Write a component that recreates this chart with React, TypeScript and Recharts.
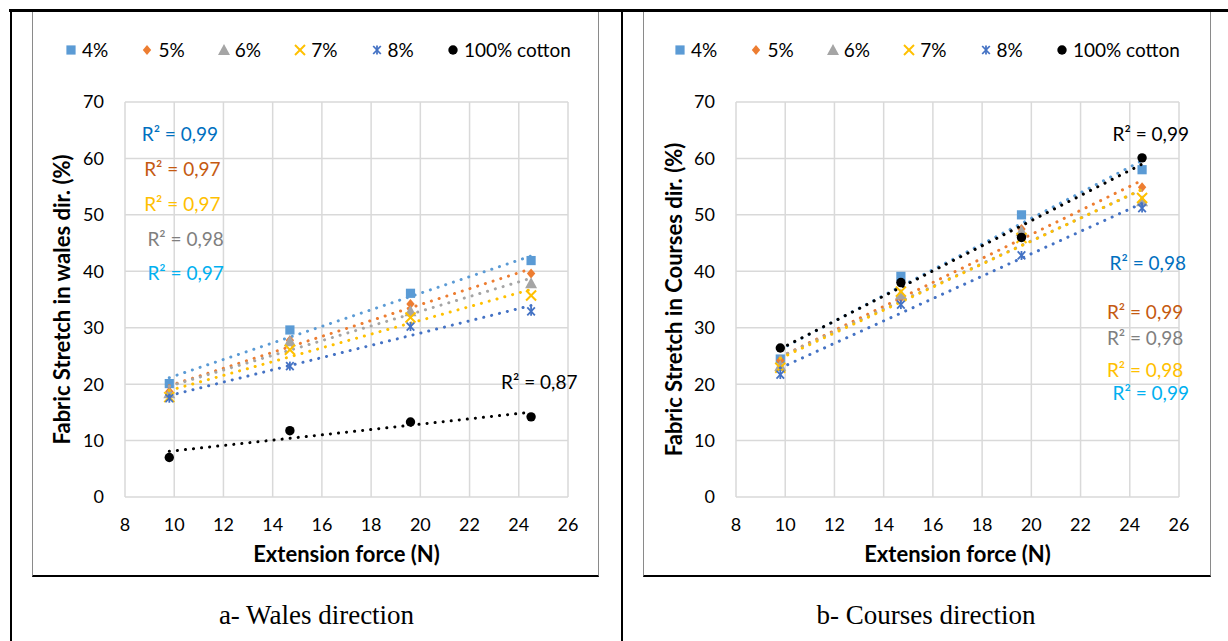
import React from 'react';
import { ScatterChart, Scatter, XAxis, YAxis, CartesianGrid, ReferenceDot } from 'recharts';

// ---- data ----
const forces = [9.8, 14.7, 19.6, 24.5];
const seriesNames = ['4%', '5%', '6%', '7%', '8%', '100% cotton'];
const xTicks = [8, 10, 12, 14, 16, 18, 20, 22, 24, 26];
const yTicks = [0, 10, 20, 30, 40, 50, 60, 70];

const wales4 = [20.1, 29.6, 36.1, 41.9];
const wales5 = [18.7, 27.8, 34.2, 39.6];
const wales6 = [18.4, 27.6, 32.9, 37.9];
const wales7 = [17.7, 26.1, 31.8, 35.7];
const wales8 = [17.5, 23.2, 30.2, 32.9];
const walesCotton = [7.0, 11.75, 13.3, 14.2];

const courses4 = [24.45, 39.1, 50.0, 58.0];
const courses5 = [24.2, 35.3, 47.5, 54.9];
const courses6 = [23.2, 35.9, 47.1, 52.4];
const courses7 = [22.9, 36.4, 45.9, 53.0];
const courses8 = [21.7, 34.1, 42.8, 51.2];
const coursesCotton = [26.4, 38.0, 46.0, 60.1];

const walesR2 = ['R² = 0,99', 'R² = 0,97', 'R² = 0,97', 'R² = 0,98', 'R² = 0,97', 'R² = 0,87'];
const coursesR2 = ['R² = 0,99', 'R² = 0,98', 'R² = 0,99', 'R² = 0,98', 'R² = 0,98', 'R² = 0,99'];

// ---- styles (kept apart from the data) ----
const seriesColors = ['#5B9BD5', '#ED7D31', '#A5A5A5', '#FFC000', '#4472C4', '#000000'];
const seriesKinds = ['square', 'diamond', 'triangle', 'x', 'star', 'circle'];
const walesR2Colors = ['#0070C0', '#C55A11', '#FFC000', '#7F7F7F', '#00B0F0', '#000000'];
const coursesR2Colors = ['#000000', '#0070C0', '#C55A11', '#7F7F7F', '#FFC000', '#00B0F0'];
// annotation anchor positions (data units, left edge / vertical centre of each R² text)
const walesR2Pos = [[8.68, 64.2], [8.78, 58.1], [8.78, 51.9], [8.91, 45.7], [8.91, 39.6], [23.28, 20.3]];
const coursesR2Pos = [[23.3, 64.3], [23.18, 41.4], [23.07, 32.7], [23.07, 28.1], [23.07, 22.5], [23.3, 18.3]];

const FONT = 'Lato, "Open Sans", sans-serif';

function drawMarker(kind: string, cx: number, cy: number, color: string) {
  switch (kind) {
    case 'square':
      return <rect x={cx - 4.6} y={cy - 4.6} width={9.2} height={9.2} fill={color} />;
    case 'diamond':
      return <polygon points={`${cx},${cy - 5} ${cx + 4.2},${cy} ${cx},${cy + 5} ${cx - 4.2},${cy}`} fill={color} />;
    case 'triangle':
      return <polygon points={`${cx},${cy - 6} ${cx + 6},${cy + 5} ${cx - 6},${cy + 5}`} fill={color} />;
    case 'x':
      return (
        <g stroke={color} strokeWidth={2}>
          <line x1={cx - 5} y1={cy - 5} x2={cx + 5} y2={cy + 5} />
          <line x1={cx - 5} y1={cy + 5} x2={cx + 5} y2={cy - 5} />
        </g>
      );
    case 'star':
      return (
        <g stroke={color} strokeWidth={1.8}>
          <line x1={cx - 3.8} y1={cy - 4} x2={cx + 3.8} y2={cy + 4} />
          <line x1={cx - 3.8} y1={cy + 4} x2={cx + 3.8} y2={cy - 4} />
          <line x1={cx} y1={cy - 4.5} x2={cx} y2={cy + 4.5} />
        </g>
      );
    default:
      return <circle cx={cx} cy={cy} r={4.7} fill={color} />;
  }
}

const makeShape = (kind: string, color: string) => (props: any) => {
  const { cx, cy } = props;
  if (cx == null || cy == null) return <g />;
  return <g>{drawMarker(kind, cx, cy, color)}</g>;
};

function LegendRow({ left }: { left: number }) {
  return (
    <div
      style={{
        position: 'absolute',
        left,
        top: 38,
        display: 'flex',
        alignItems: 'center',
        fontFamily: FONT,
        fontSize: 19,
        color: '#000',
        lineHeight: '24px',
        whiteSpace: 'nowrap',
      }}
    >
      {seriesNames.map((n, i) => (
        <div key={n} style={{ width: i < 5 ? 76.4 : 'auto', display: 'flex', alignItems: 'center' }}>
          <svg width={14} height={14} style={{ display: 'block' }}>
            {drawMarker(seriesKinds[i], 7, 7, seriesColors[i])}
          </svg>
          <span style={{ marginLeft: 4 }}>{n}</span>
        </div>
      ))}
    </div>
  );
}

function Panel({
  left,
  series,
  yTitle,
  r2Texts,
  r2Colors,
  r2Pos,
  yLabelOffset,
}: {
  left: number;
  series: number[][];
  yTitle: string;
  r2Texts: string[];
  r2Colors: string[];
  r2Pos: number[][];
  yLabelOffset: number;
}) {
  return (
    <div style={{ position: 'absolute', left, top: 0 }}>
      <ScatterChart width={620} height={600} margin={{ top: 102, right: 52, bottom: 33, left: 0 }}>
        <CartesianGrid stroke="#d9d9d9" strokeWidth={1.5} />
        <XAxis
          type="number"
          dataKey="x"
          domain={[8, 26]}
          ticks={xTicks}
          interval={0}
          height={70}
          axisLine={false}
          tickLine={false}
          tickSize={0}
          tickMargin={21}
          tick={{ fill: '#000', fontSize: 18, fontFamily: FONT }}
          label={{
            value: 'Extension force (N)',
            position: 'insideBottom',
            offset: 5,
            fill: '#000',
            fontSize: 22,
            fontWeight: 700,
            fontFamily: FONT,
          }}
        />
        <YAxis
          type="number"
          dataKey="y"
          domain={[0, 70]}
          ticks={yTicks}
          interval={0}
          width={125}
          axisLine={false}
          tickLine={false}
          tickSize={0}
          tickMargin={21}
          tick={{ fill: '#000', fontSize: 18, fontFamily: FONT }}
          label={{
            value: yTitle,
            angle: -90,
            position: 'insideLeft',
            offset: yLabelOffset,
            fill: '#000',
            fontSize: 22,
            fontWeight: 700,
            fontFamily: FONT,
            style: { textAnchor: 'middle' },
          }}
        />
        {series.map((vals, i) => (
          <Scatter
            key={seriesNames[i]}
            name={seriesNames[i]}
            data={forces.map((x, j) => ({ x, y: vals[j] }))}
            fill={seriesColors[i]}
            shape={makeShape(seriesKinds[i], seriesColors[i])}
            line={{
              stroke: seriesColors[i],
              strokeWidth: 3,
              strokeDasharray: '0.1 8',
              strokeLinecap: 'round',
            }}
            lineType="fitting"
            isAnimationActive={false}
          />
        ))}
        {r2Texts.map((t, i) => (
          <ReferenceDot
            key={'r' + i}
            x={r2Pos[i][0]}
            y={r2Pos[i][1]}
            r={0}
            fill="none"
            stroke="none"
            label={{
              value: t,
              position: 'right',
              offset: 0,
              fill: r2Colors[i],
              fontSize: 19,
              fontFamily: FONT,
            }}
          />
        ))}
      </ScatterChart>
    </div>
  );
}

export default function App() {
  return (
    <div
      style={{
        position: 'absolute',
        left: 0,
        top: 0,
        width: 1228,
        height: 641,
        background: '#fff',
        overflow: 'hidden',
      }}
    >
      {/* chart frames */}
      <div style={{ position: 'absolute', left: 31.5, top: 9, width: 567, height: 568, borderLeft: '1px solid #8a8a8a', borderRight: '1px solid #8a8a8a', borderBottom: '2px solid #000', boxSizing: 'border-box' }} />
      <div style={{ position: 'absolute', left: 642.5, top: 9, width: 568, height: 568, borderLeft: '1px solid #8a8a8a', borderRight: '1px solid #8a8a8a', borderBottom: '2px solid #000', boxSizing: 'border-box' }} />

      <Panel
        left={0}
        series={[wales4, wales5, wales6, wales7, wales8, walesCotton]}
        yTitle="Fabric Stretch in wales dir. (%)"
        r2Texts={walesR2}
        r2Colors={walesR2Colors}
        r2Pos={walesR2Pos}
        yLabelOffset={62}
      />
      <Panel
        left={611}
        series={[courses4, courses5, courses6, courses7, courses8, coursesCotton]}
        yTitle="Fabric Stretch in Courses dir. (%)"
        r2Texts={coursesR2}
        r2Colors={coursesR2Colors}
        r2Pos={coursesR2Pos}
        yLabelOffset={63}
      />

      <LegendRow left={64} />
      <LegendRow left={673} />

      {/* table borders */}
      <div style={{ position: 'absolute', left: 9, top: 9, width: 1219, height: 2.5, background: '#000' }} />
      <div style={{ position: 'absolute', left: 10, top: 9, width: 2, height: 632, background: '#000' }} />
      <div style={{ position: 'absolute', left: 621, top: 9, width: 2, height: 632, background: '#000' }} />

      {/* captions */}
      <div style={{ position: 'absolute', left: 12, width: 609, top: 599, textAlign: 'center', fontFamily: '"Liberation Serif", "Times New Roman", serif', fontSize: 27, lineHeight: '32px', color: '#000' }}>
        a- Wales direction
      </div>
      <div style={{ position: 'absolute', left: 623, width: 606, top: 599, textAlign: 'center', fontFamily: '"Liberation Serif", "Times New Roman", serif', fontSize: 27, lineHeight: '32px', color: '#000' }}>
        b- Courses direction
      </div>
    </div>
  );
}
